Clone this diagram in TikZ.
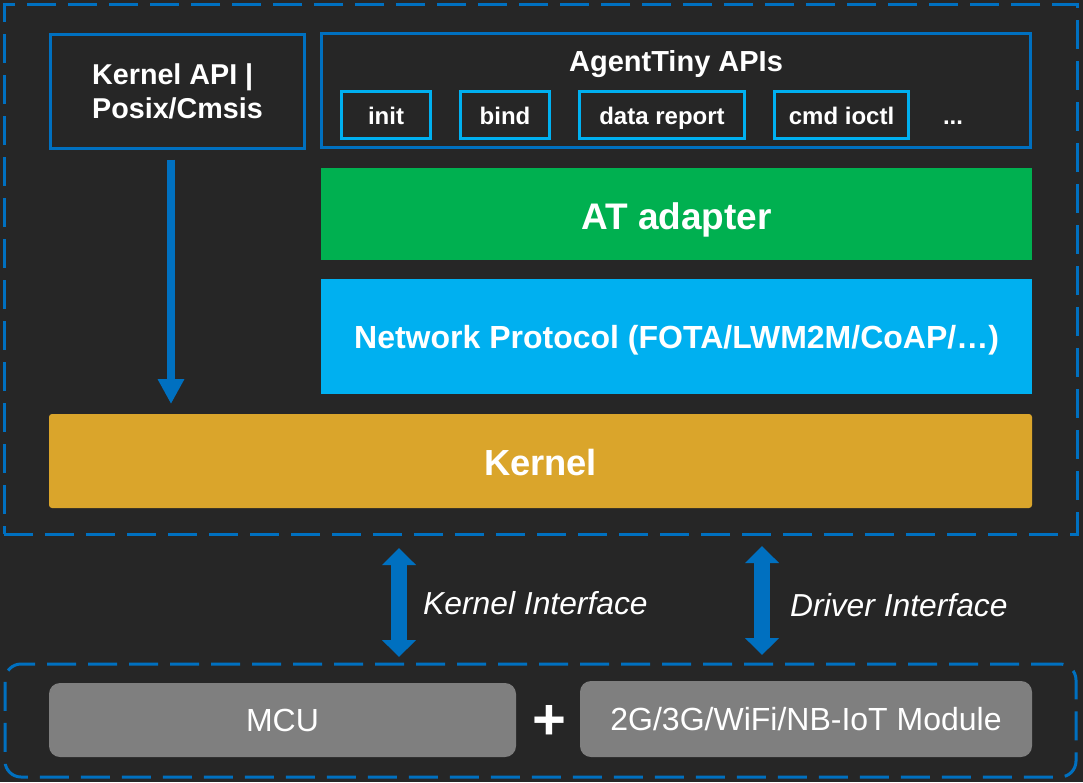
\documentclass[tikz,border=0pt]{standalone}
\usepackage{fontspec}
\setmainfont{Liberation Sans}
\usetikzlibrary{arrows.meta}
\definecolor{bg}{RGB}{38,38,38}
\definecolor{dblue}{RGB}{0,112,192}
\definecolor{lblue}{RGB}{0,176,240}
\definecolor{agreen}{RGB}{0,176,80}
\definecolor{gold}{RGB}{218,165,43}
\definecolor{mgray}{RGB}{127,127,127}
\newcommand{\fs}[1]{\fontsize{#1}{#1}\selectfont}
\tikzset{
  box/.style={inner sep=0pt, outer sep=0pt, text=white, align=center},
  dashbox/.style={box, draw=dblue, line width=3pt, dash pattern=on 29pt off 12pt},
  apibox/.style={box, draw=dblue, line width=3pt},
  subbox/.style={box, draw=lblue, line width=3pt, minimum height=47pt, font=\bfseries\fs{24}, text height=19.2pt, text depth=0pt},
  layer/.style={box, font=\bfseries\fs{37}},
  hwbox/.style={box, fill=mgray, rounded corners=11pt, font=\fs{32}},
  dblarrow/.style={dblue, line width=16pt, {Triangle[width=33pt,length=17pt]}-{Triangle[width=33pt,length=17pt]}},
  iflabel/.style={text=white, font=\itshape\fs{31.8}, anchor=west, inner sep=0pt}
}
\begin{document}
\begin{tikzpicture}[x=1pt,y=-1pt]
\useasboundingbox[fill=bg] (0,0) rectangle (1083,782);
% outer containers
\node[dashbox, minimum width=1073pt, minimum height=530pt] (top) at (540.5,269) {};
\node[dashbox, rounded corners=16pt, minimum width=1071pt, minimum height=113pt] (bottom) at (540.5,720.5) {};
% top row
\node[apibox, minimum width=254pt, minimum height=114pt, font=\bfseries\fs{28.7}, align=left] (kapi) at (177.5,91.5) {Kernel API |\\[5pt]Posix/Cmsis};
\node[apibox, minimum width=709pt, minimum height=114pt] (agent) at (676,90.5) {};
\node[box, font=\bfseries\fs{29}, text height=20.8pt, text depth=0pt] (agenttitle) at (676,61) {AgentTiny APIs};
\node[subbox, minimum width=89pt] (init) at (386,115) {init};
\node[subbox, minimum width=89pt] (bind) at (505,115) {bind};
\node[subbox, minimum width=165pt] (report) at (662,115) {data report};
\node[subbox, minimum width=134pt] (ioctl) at (841.5,115) {cmd ioctl};
\node[box, font=\bfseries\fs{24}, text height=19.2pt, text depth=0pt] (dots) at (953,115) {...};
% layers
\node[layer, fill=agreen, minimum width=711pt, minimum height=92pt, text height=30.6pt, text depth=0pt] (at) at (676.5,214) {AT adapter};
\node[layer, fill=lblue, minimum width=711pt, minimum height=115pt, font=\bfseries\fs{32}, text height=24pt, text depth=0pt] (net) at (676.5,336.5) {Network Protocol (FOTA/LWM2M/CoAP/…)};
\node[layer, fill=gold, rounded corners=3pt, minimum width=983pt, minimum height=94pt, font=\bfseries\fs{36.3}, text height=29.8pt, text depth=0pt] (kernel) at (540.5,461) {Kernel};
% hardware
\node[hwbox, minimum width=467pt, minimum height=74pt] (mcu) at (282.5,720) {MCU};
\node[hwbox, minimum width=452pt, minimum height=76pt] (module) at (806,719) {2G/3G/WiFi/NB-IoT Module};
\node[box, font=\bfseries\fs{58}] (plus) at (549,722) {+};
% arrows
\draw[dblue, line width=8pt, -{Triangle[width=25pt,length=25pt]}] ([xshift=-6.5pt,yshift=-11pt]kapi.south) -- ([xshift=-369.5pt,yshift=10pt]kernel.north);
\draw[dblarrow] ([xshift=-141.5pt,yshift=-14pt]top.south) -- ([xshift=-141.5pt,yshift=7pt]bottom.north);
\draw[dblarrow] ([xshift=221.5pt,yshift=-12pt]top.south) -- ([xshift=221.5pt,yshift=9pt]bottom.north);
\node[iflabel] (kif) at (423,603) {Kernel Interface};
\node[iflabel] (dif) at (790,605) {Driver Interface};
\end{tikzpicture}
\end{document}
